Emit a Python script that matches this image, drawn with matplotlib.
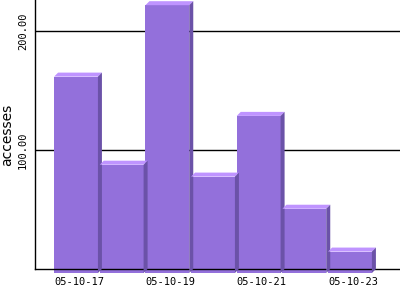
import matplotlib
matplotlib.use("Agg")
import matplotlib.pyplot as plt
from matplotlib.patches import Polygon
from matplotlib.transforms import ScaledTranslation
import numpy as np

dates = ["05-10-17", "05-10-18", "05-10-19", "05-10-20", "05-10-21", "05-10-22", "05-10-23"]
accesses = [165, 91, 225, 81, 132, 54, 18]
label_every = 2
yticks = [100, 200]
ytick_labels = ["100.00", "200.00"]

front_c = "#9370DB"
top_c = "#BF94FF"
side_c = "#6B52A8"
depth = 4  # pixels
width = 0.96

fig = plt.figure(figsize=(4, 3), dpi=100)
W, H = 400, 300
ax = fig.add_axes([35 / W, 31 / H, 365 / W, 269 / H])
ax.set_xlim(-0.898, 7.095)
ax.set_ylim(0, 226)

x = np.arange(len(dates))
front_tf = ax.transData + ScaledTranslation(0, -depth / 100, fig.dpi_scale_trans)

for i, v in enumerate(accesses):
    z = 2 + i * 0.1
    ax.bar(x[i], v, width=width, color=front_c, transform=front_tf, zorder=z,
           clip_on=False, linewidth=0)
    (xl, yt) = ax.transData.transform((x[i] - width / 2, v))
    (xr, yb) = ax.transData.transform((x[i] + width / 2, 0))
    yt -= depth
    yb -= depth
    top = Polygon([(xl, yt), (xr, yt), (xr + depth, yt + depth), (xl + depth, yt + depth)],
                  closed=True, transform=None, facecolor=top_c, edgecolor="none",
                  zorder=z + 0.01, clip_on=False)
    side = Polygon([(xr, yt), (xr + depth, yt + depth), (xr + depth, yb + depth), (xr, yb)],
                   closed=True, transform=None, facecolor=side_c, edgecolor="none",
                   zorder=z + 0.01, clip_on=False)
    fig.add_artist(top)
    fig.add_artist(side)

for s in ["top", "right"]:
    ax.spines[s].set_visible(False)
for s in ["left", "bottom"]:
    ax.spines[s].set_linewidth(1.0)
    ax.spines[s].set_color("black")
    ax.spines[s].set_zorder(10)

ax.set_yticks(yticks)
ax.set_yticklabels(ytick_labels, rotation=90, va="center",
                   fontfamily="DejaVu Sans Mono", fontsize=7.5)
ax.yaxis.grid(True, color="black", linewidth=1.0)
ax.set_axisbelow(True)
ax.tick_params(axis="y", length=0, pad=5)

ax.set_xticks(x[::label_every])
ax.set_xticklabels(dates[::label_every], fontfamily="DejaVu Sans Mono", fontsize=7.5)
ax.tick_params(axis="x", length=0, pad=6)
for lbl in ax.get_xticklabels():
    lbl.set_transform(lbl.get_transform() + ScaledTranslation(3 / 100, 0, fig.dpi_scale_trans))

ax.set_ylabel("accesses", fontfamily="DejaVu Sans", fontsize=10)
ax.yaxis.set_label_coords(-0.058, 0.5)

fig.savefig("out.png", dpi=100)
